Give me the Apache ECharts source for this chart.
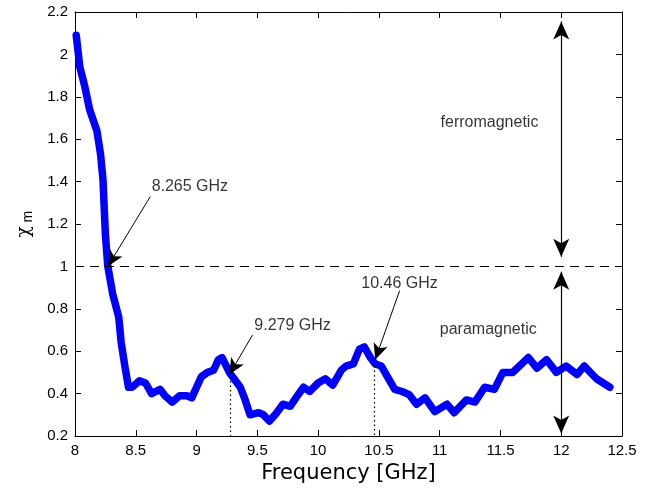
<!DOCTYPE html>
<html>
<head>
<meta charset="utf-8">
<script src="https://cdn.jsdelivr.net/npm/echarts@6/dist/echarts.min.js"></script>
<style>html,body{margin:0;padding:0;background:#fff}#c{width:657px;height:495px}</style>
</head>
<body>
<div id="c"></div>
<script>
var freq = [8.01,8.04,8.08,8.12,8.18,8.21,8.23,8.25,8.27,8.31,8.36,8.38,8.41,8.44,8.47,8.53,8.58,8.63,8.70,8.74,8.80,8.86,8.92,8.96,9.00,9.04,9.09,9.14,9.18,9.21,9.27,9.36,9.40,9.44,9.51,9.55,9.60,9.66,9.71,9.77,9.83,9.88,9.93,10.00,10.06,10.12,10.19,10.23,10.29,10.34,10.38,10.43,10.47,10.52,10.59,10.63,10.69,10.75,10.81,10.88,10.96,11.06,11.12,11.22,11.29,11.37,11.45,11.52,11.60,11.73,11.80,11.88,11.96,12.04,12.13,12.19,12.29,12.40];
var chi  = [2.09,1.94,1.85,1.74,1.64,1.53,1.41,1.15,1.00,0.87,0.76,0.64,0.53,0.43,0.43,0.46,0.45,0.40,0.42,0.39,0.36,0.39,0.39,0.38,0.43,0.48,0.50,0.51,0.56,0.57,0.50,0.43,0.37,0.30,0.31,0.30,0.27,0.31,0.35,0.34,0.39,0.43,0.41,0.45,0.47,0.44,0.51,0.53,0.54,0.61,0.62,0.57,0.54,0.53,0.46,0.42,0.41,0.395,0.35,0.38,0.315,0.35,0.31,0.37,0.36,0.43,0.42,0.50,0.50,0.57,0.52,0.56,0.50,0.53,0.49,0.53,0.47,0.43];
var xTicks = [8, 12.5, 0.5];
var yTicks = [0.2, 2.2, 0.2];
var thresholdChi = 1;
var markFreqs = [8.265, 9.279, 10.46];
var markLabels = ['8.265 GHz', '9.279 GHz', '10.46 GHz'];
// label positions and arrow tails (data units)
var labelPos = [[8.945, 1.376], [9.79, 0.72], [10.67, 0.92]];
var arrowTail = [[8.62, 1.33], [9.46, 0.676], [10.67, 0.885]];
var arrowTip = [[8.27, 1.0], [9.27, 0.49], [10.47, 0.56]];
var dotTop = [null, 0.46, 0.53];
var regionX = 12;
var ferroArrow = [2.155, 1.045];
var paraArrow = [0.975, 0.212];
var regionLabels = [['ferromagnetic', 11.41, 1.68], ['paramagnetic', 11.40, 0.70]];

var font = 'Liberation Sans, Arial, sans-serif';
var chart = echarts.init(document.getElementById('c'));
var lineData = freq.map(function(f, i){ return [f, chi[i]]; });

var markLines = [];
markLines.push([{coord:[xTicks[0], thresholdChi], symbol:'none', lineStyle:{type:[9,6], width:1.2, color:'#000'}},
                {coord:[xTicks[1], thresholdChi], symbol:'none'}]);
for (var i = 0; i < 3; i++) {
  markLines.push([{coord:arrowTail[i], symbol:'none', lineStyle:{type:'solid', width:1, color:'#000'}},
                  {coord:arrowTip[i], symbol:'arrow', symbolSize:[11,16]}]);
  if (dotTop[i] !== null) {
    markLines.push([{coord:[markFreqs[i], dotTop[i]], symbol:'none', lineStyle:{type:[1.5,3], width:1.2, color:'#000'}},
                    {coord:[markFreqs[i], yTicks[0]], symbol:'none'}]);
  }
}
markLines.push([{coord:[regionX, ferroArrow[0]], symbol:'arrow', symbolSize:[12,18], lineStyle:{type:'solid', width:1.2, color:'#000'}},
                {coord:[regionX, ferroArrow[1]], symbol:'arrow', symbolSize:[12,18]}]);
markLines.push([{coord:[regionX, paraArrow[0]], symbol:'arrow', symbolSize:[12,18], lineStyle:{type:'solid', width:1.2, color:'#000'}},
                {coord:[regionX, paraArrow[1]], symbol:'arrow', symbolSize:[12,18]}]);

var textPts = [];
for (var j = 0; j < 3; j++) textPts.push({value: labelPos[j], name: markLabels[j]});
regionLabels.forEach(function(r){ textPts.push({value:[r[1], r[2]], name:r[0]}); });

var axisCommon = {
  axisLine: {show:true, lineStyle:{color:'#000', width:1}},
  axisTick: {show:true, inside:true, length:6, lineStyle:{color:'#000'}},
  splitLine: {show:false}
};

chart.setOption({
  animation: false,
  backgroundColor: '#fff',
  grid: {left:75, top:12, right:35, bottom:59, show:false, containLabel:false, outerBoundsMode:'none'},
  xAxis: [
    Object.assign({type:'value', min:xTicks[0], max:xTicks[1], interval:xTicks[2], position:'bottom',
      name:'Frequency [GHz]', nameLocation:'middle', nameGap:24,
      nameTextStyle:{fontFamily:'DejaVu Sans', fontSize:21, color:'#000', verticalAlign:'top'},
      axisLabel:{fontFamily:font, fontSize:15, color:'#000', margin:7}}, axisCommon),
    Object.assign({type:'value', min:xTicks[0], max:xTicks[1], interval:xTicks[2], position:'top',
      axisLabel:{show:false}}, axisCommon)
  ],
  yAxis: [
    Object.assign({type:'value', min:yTicks[0], max:yTicks[1], interval:yTicks[2], position:'left',
      name:'{a|χ}{b| m}', nameLocation:'middle', nameGap:40, nameRotate:90,
      nameTextStyle:{rich:{a:{fontFamily:'DejaVu Serif', fontSize:18, color:'#000'}, b:{fontFamily:font, fontSize:14, color:'#000', padding:[8,0,0,0]}}},
      axisLabel:{fontFamily:font, fontSize:15, color:'#000', margin:7}}, axisCommon),
    Object.assign({type:'value', min:yTicks[0], max:yTicks[1], interval:yTicks[2], position:'right',
      axisLabel:{show:false}}, axisCommon)
  ],
  series: [
    {type:'line', data:lineData, showSymbol:false, smooth:false,
     lineStyle:{color:'#0000ff', width:7.5, join:'round', cap:'round'}, z:2,
     markLine:{silent:true, animation:false, label:{show:false}, data:markLines, z:5}},
    {type:'scatter', data:textPts, symbolSize:0, z:6,
     label:{show:true, position:'inside', formatter:function(p){return p.name;}, fontFamily:font, fontSize:16, color:'#000'}}
  ]
});
</script>
</body>
</html>
